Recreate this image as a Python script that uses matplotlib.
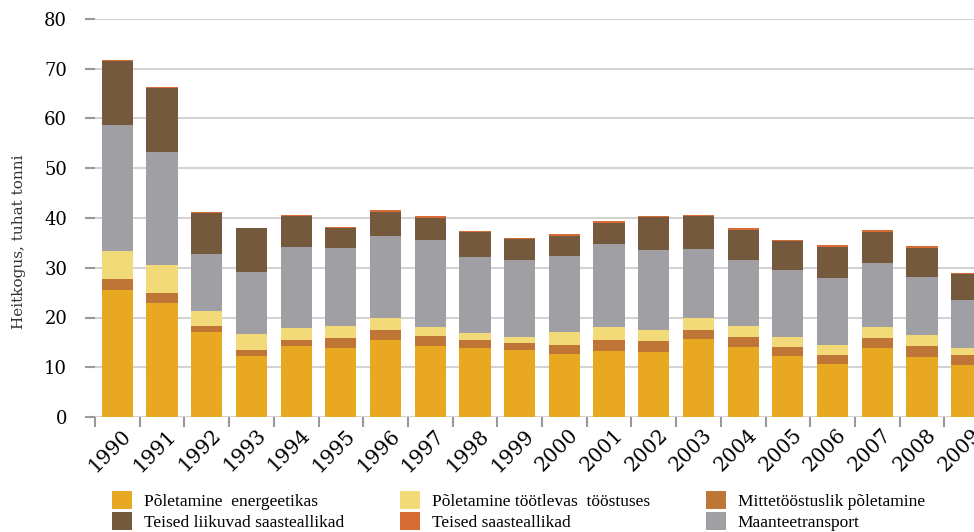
import matplotlib
matplotlib.use("Agg")
import matplotlib.pyplot as plt
import matplotlib.transforms as mtransforms
from matplotlib.patches import Patch
import numpy as np

# Data (thousand tonnes)
years = [str(y) for y in range(1990, 2010)]
energeetika = [25.5, 22.9, 17.0, 12.2, 14.2, 13.8, 15.4, 14.2, 13.8, 13.4,
               12.6, 13.2, 13.0, 15.6, 14.0, 12.2, 10.6, 13.8, 12.0, 10.4]
mittetoostus = [2.2, 2.0, 1.3, 1.2, 1.2, 2.0, 2.0, 2.0, 1.6, 1.4,
                1.8, 2.2, 2.2, 1.8, 2.0, 1.8, 1.8, 2.0, 2.2, 2.0]
tootlev = [5.7, 5.6, 3.0, 3.2, 2.5, 2.5, 2.5, 1.9, 1.4, 1.2,
           2.6, 2.7, 2.2, 2.5, 2.3, 2.0, 2.0, 2.3, 2.2, 1.4]
maantee = [25.3, 22.8, 11.5, 12.5, 16.3, 15.7, 16.5, 17.5, 15.3, 15.5,
           15.3, 16.7, 16.2, 13.9, 13.2, 13.5, 13.5, 12.8, 11.7, 9.7]
liikuvad = [12.8, 12.9, 8.3, 8.9, 6.2, 4.0, 4.8, 4.4, 5.1, 4.3,
            4.1, 4.2, 6.6, 6.6, 6.1, 5.9, 6.3, 6.3, 5.9, 5.2]
teised = [0.3, 0.2, 0.2, 0.05, 0.2, 0.2, 0.4, 0.4, 0.2, 0.2,
          0.4, 0.4, 0.2, 0.2, 0.4, 0.2, 0.4, 0.4, 0.4, 0.2]

# stacking order, bottom to top
series = [
    ("Põletamine  energeetikas", energeetika, "#E9A821"),
    ("Mittetööstuslik põletamine", mittetoostus, "#BE7535"),
    ("Põletamine töötlevas  tööstuses", tootlev, "#F3DA78"),
    ("Maanteetransport", maantee, "#A0A0A4"),
    ("Teised liikuvad saasteallikad", liikuvad, "#74593D"),
    ("Teised saasteallikad", teised, "#D66B35"),
]

fig = plt.figure(figsize=(9.74, 5.32), dpi=100)
ax = fig.add_axes([95 / 974, 1 - 417 / 532, 894 / 974, 398 / 532])

x = np.arange(len(years))
bottom = np.zeros(len(years))
handles = {}
for name, vals, col in series:
    ax.bar(x, vals, width=0.7, bottom=bottom, color=col, zorder=3)
    bottom += np.array(vals)
    handles[name] = Patch(facecolor=col)

ax.set_xlim(-0.5, 19.5)
ax.set_ylim(0, 80)
ax.set_yticks(range(0, 81, 10))
ax.yaxis.grid(True, color="#D3D3D3", lw=1.5, zorder=0)
for s in ax.spines.values():
    s.set_visible(False)

ax.set_yticklabels([str(v) for v in range(0, 81, 10)],
                   fontdict={"family": "DejaVu Serif", "size": 13})
ax.tick_params(axis="y", length=7, width=1.5, color="#999999", pad=13)

# year labels at bar centers, tick marks at category boundaries
ax.set_xticks(x)
ax.set_xticklabels(years, fontdict={"family": "DejaVu Serif", "size": 14.5},
                   rotation=45, ha="right", va="center", rotation_mode="anchor")
ax.tick_params(axis="x", which="major", length=0, pad=11)
ax.set_xticks(np.arange(-0.5, 20, 1), minor=True)
ax.tick_params(axis="x", which="minor", length=7, width=1.5, color="#999999")
offset = mtransforms.ScaledTranslation(11 / 100, 0, fig.dpi_scale_trans)
for lab in ax.get_xticklabels():
    lab.set_transform(lab.get_transform() + offset)

fig.text(19 / 974, 1 - 242 / 532, "Heitkogus, tuhat tonni", rotation=90,
         ha="center", va="center", family="DejaVu Serif", size=11, color="#333333")

order = ["Põletamine  energeetikas", "Teised liikuvad saasteallikad",
         "Põletamine töötlevas  tööstuses", "Teised saasteallikad",
         "Mittetööstuslik põletamine", "Maanteetransport"]
fig.legend([handles[n] for n in order], order, loc="upper left",
           bbox_to_anchor=(112 / 974, 1 - 491 / 532), ncol=3, frameon=False,
           borderpad=0, borderaxespad=0, handlelength=1.15, handleheight=1.25,
           handletextpad=0.7, labelspacing=0.1, columnspacing=3.2,
           prop={"family": "Liberation Serif", "size": 12.5})

fig.savefig("out.png", dpi=100)
